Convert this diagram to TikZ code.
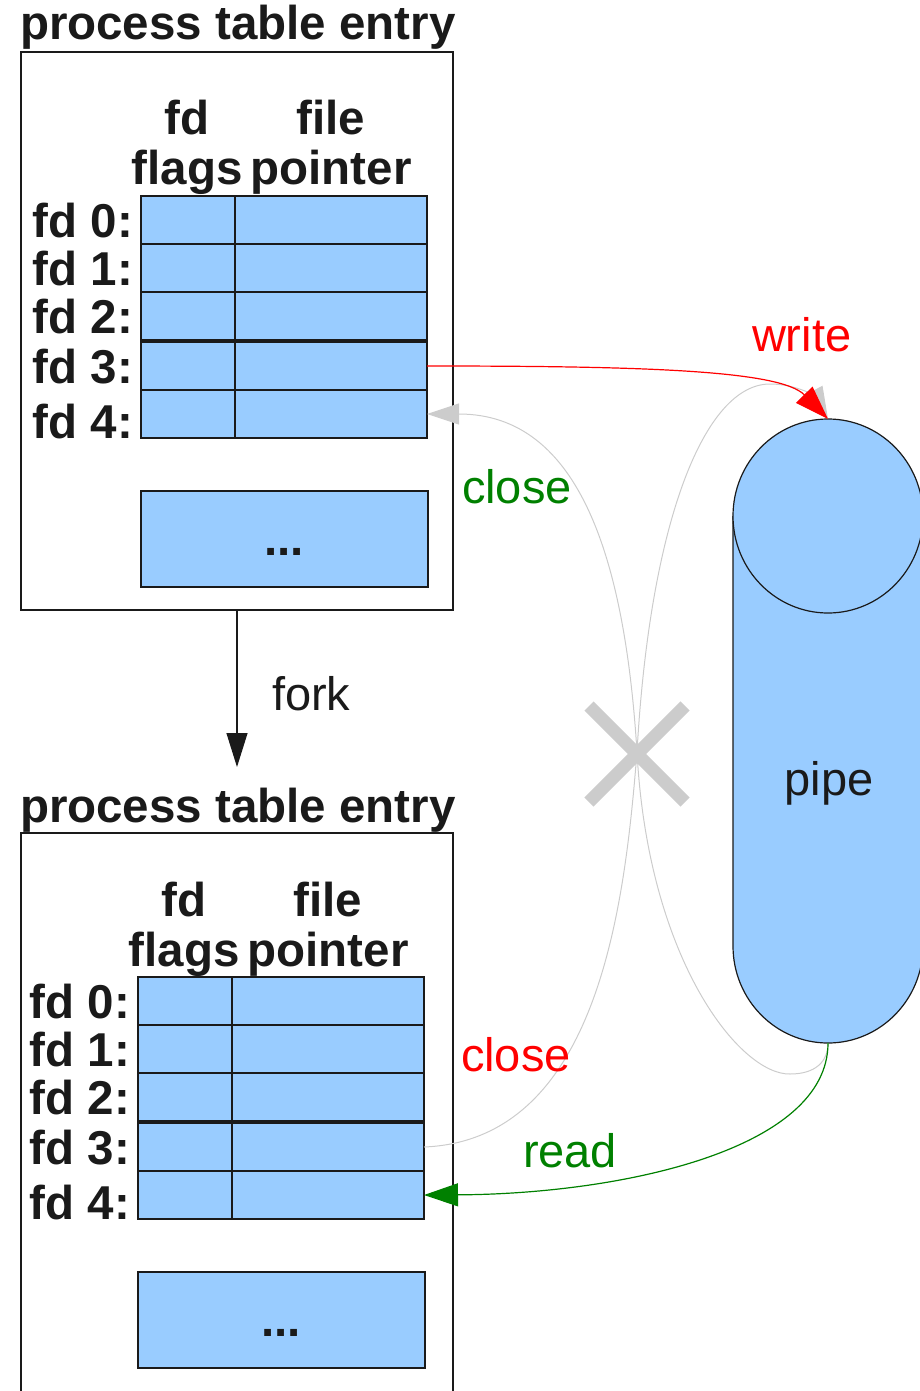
\documentclass[tikz,border=0pt]{standalone}
\usepackage{fontspec}
\setmainfont{Liberation Sans}
\usetikzlibrary{arrows.meta}

\definecolor{cellblue}{HTML}{99CCFF}
\definecolor{ink}{HTML}{1A1A1A}
\definecolor{darkgreen}{HTML}{008000}
\definecolor{linegray}{HTML}{CCCCCC}
\definecolor{pureRed}{HTML}{FF0000}

\tikzset{
  cell/.style={draw=ink, fill=cellblue, line width=1.2pt, inner sep=0pt, outer sep=0pt,
               anchor=north west, minimum height=48pt},
  flagcell/.style={cell, minimum width=94pt},
  ptrcell/.style={cell, minimum width=192pt},
  morecell/.style={cell, minimum width=287pt, minimum height=96pt},
  frame/.style={draw=ink, line width=1.2pt, inner sep=0pt, outer sep=0pt, anchor=north west},
  boldtext/.style={font=\fontsize{47.5}{50}\selectfont\bfseries, text=ink, inner sep=0pt, outer sep=0pt},
  titletext/.style={font=\fontsize{47.5}{50}\selectfont\bfseries, text=ink, inner sep=0pt, outer sep=0pt, anchor=base west},
  plaintext/.style={font=\fontsize{47}{50}\selectfont, inner sep=0pt, outer sep=0pt, anchor=base west},
  bigtip/.style={-{Triangle[length=34pt,width=23pt]}},
  grayline/.style={draw=linegray, line width=1pt},
}

% one file-descriptor table: #1 name prefix, (#2,#3) shift
\newcommand\fdtable[3]{%
\begin{scope}[shift={(#2,#3)}]
  \node[boldtext, anchor=base] (#1-h1) at (187,135) {fd};
  \node[boldtext, anchor=base] (#1-h2) at (187,185) {flags};
  \node[boldtext, anchor=base] (#1-h3) at (331,135) {file};
  \node[boldtext, anchor=base] (#1-h4) at (331,185) {pointer};
  \foreach \i/\rowtop/\base in {0/196/237,1/244/285,2/292/333,3/342/383,4/390/438}{
    \node[flagcell] (#1-f\i) at (141,\rowtop) {};
    \node[ptrcell]  (#1-p\i) at (235,\rowtop) {};
    \node[boldtext, anchor=base east] (#1-l\i) at (133,\base) {fd \i:};
  }
  \node[morecell] (#1-more) at (141,491) {};
  \node[boldtext, anchor=base] (#1-dots) at (284,555) {...};
\end{scope}}

\begin{document}
\begin{tikzpicture}[x=1pt, y=-1pt]
  \useasboundingbox (0,0) rectangle (920,1391);
  \clip (0,0) rectangle (920,1391);

  % parent process
  \node[titletext] (T-title) at (20,40) {process table entry};
  \node[frame, minimum width=432pt, minimum height=558pt] (topbox) at (21,52) {};
  \fdtable{T}{0}{0}

  % child process
  \node[titletext] (B-title) at (20,822) {process table entry};
  \node[frame, minimum width=432pt, minimum height=620pt] (botbox) at (21,833) {};
  \fdtable{B}{-3}{781}

  % fork
  \coordinate (forktip) at (237,767);
  \draw[ink, line width=1.2pt, -{Triangle[length=34pt,width=21pt]}] (topbox.south) -- (forktip);
  \node[plaintext, text=ink] (forklbl) at (272,710) {fork};

  % pipe (cylinder, cut by the right edge)
  \fill[cellblue] (733,516) -- (733,946)
     arc[start angle=180, end angle=0, x radius=95, y radius=97] -- (923,516) -- cycle;
  \draw[ink, line width=1.2pt] (733,516) -- (733,946)
     arc[start angle=180, end angle=0, x radius=95, y radius=97] -- (923,516);
  \draw[ink, line width=1.2pt, fill=cellblue] (828,516) ellipse[x radius=95, y radius=97];
  \coordinate (pipetop) at (828,419);
  \coordinate (pipebot) at (828,1043);
  \node[plaintext, anchor=base, text=ink] (pipelbl) at (829,795) {pipe};

  % closed descriptors (grey)
  \draw[grayline, -{Triangle[length=32pt,width=21pt]}]
    (pipebot) .. controls (828,1062) and (815,1074) .. (790,1074)
    .. controls (740,1075) and (648,960) .. (637,752)
    .. controls (625,560) and (580,414) .. (T-p4.east);
  \draw[grayline, -{Triangle[length=32pt,width=21pt]}]
    (B-p3.east) .. controls (600,1140) and (625,900) .. (637,752)
    .. controls (650,520) and (705,384) .. (770,384)
    .. controls (800,384) and (818,400) .. (pipetop);
  \draw[linegray, line width=13pt] (589,706) -- (685,802) (589,802) -- (685,706);

  % write end (parent) and read end (child)
  \draw[pureRed, line width=1.2pt, bigtip]
    (T-p3.east) .. controls (640,366) and (780,370) .. (pipetop);
  \draw[darkgreen, line width=1.2pt, bigtip]
    (pipebot) .. controls (828,1150) and (620,1194) .. (B-p4.east);

  % labels
  \node[plaintext, text=pureRed] (writelbl) at (752,351) {write};
  \node[plaintext, text=darkgreen] (closeT) at (462,503) {close};
  \node[plaintext, text=pureRed] (closeB) at (461,1071) {close};
  \node[plaintext, text=darkgreen] (readlbl) at (523,1167) {read};
\end{tikzpicture}
\end{document}
